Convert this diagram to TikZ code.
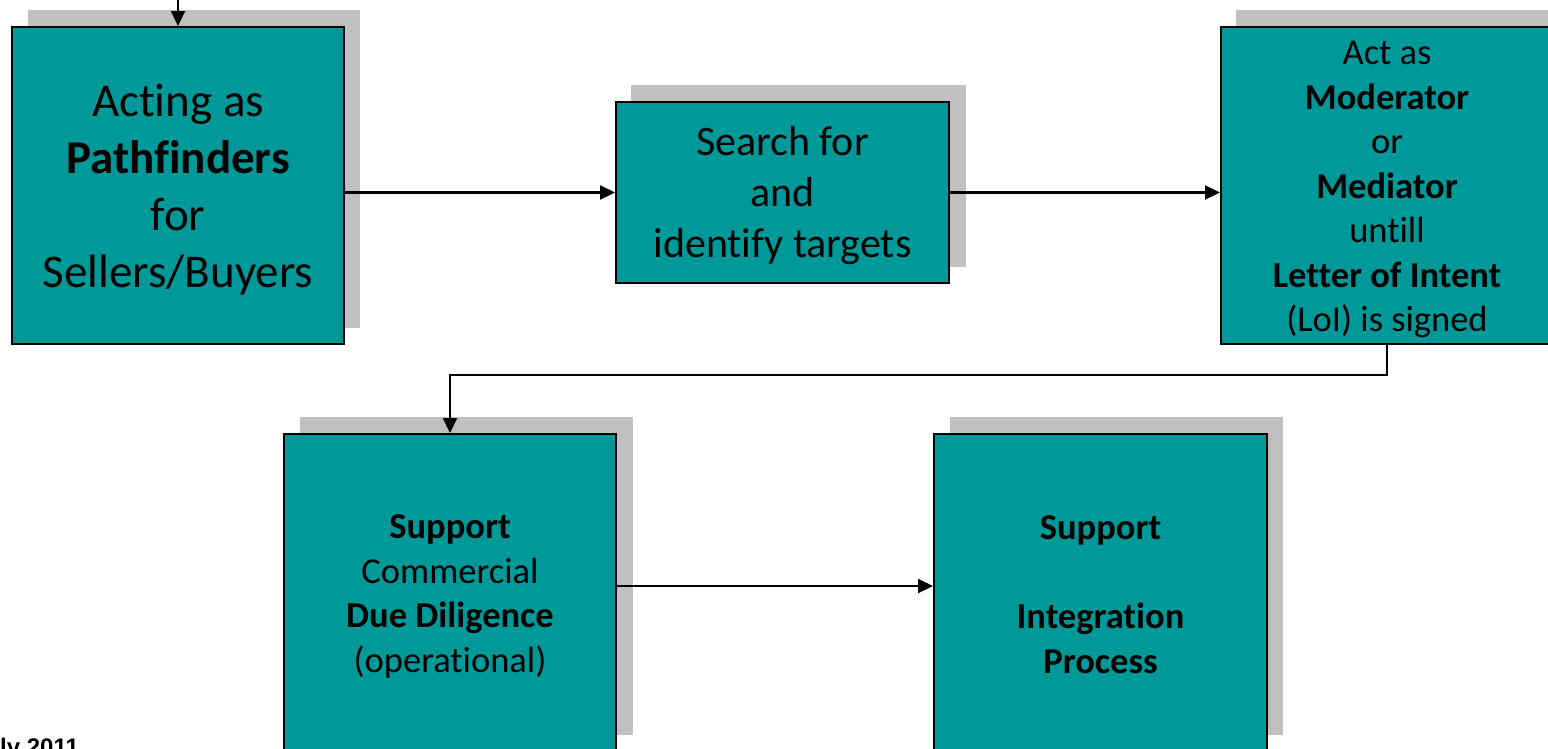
\documentclass[tikz,border=0pt]{standalone}
\usepackage{fontspec}
\setmainfont[Ligatures=CommonOff]{Carlito}
\newfontfamily\arialfont{Liberation Sans}
\usetikzlibrary{arrows.meta,positioning}
\definecolor{teal1}{RGB}{0,153,153}
\definecolor{shadowgray}{RGB}{192,192,192}
\tikzset{
  flowbox/.style={draw=black, line width=2pt, fill=teal1, inner sep=0pt},
  boxtext/.style={inner sep=0pt, align=center, text=black},
  conn/.style={line width=2.2pt, -{Triangle[length=15pt,width=14pt]}}
}
\begin{document}
\begin{tikzpicture}[x=1pt,y=-1pt]
\path[use as bounding box] (0,0) rectangle (1548,748);
\clip (0,0) rectangle (1548,748);
\fill[white] (0,0) rectangle (1548,748);
% shadows
\fill[shadowgray] (28,10) rectangle (360,328);
\fill[shadowgray] (631,85) rectangle (966,267);
\fill[shadowgray] (1236,10) rectangle (1570,328);
\fill[shadowgray] (300,417) rectangle (633,735);
\fill[shadowgray] (950,417) rectangle (1283,735);
% boxes
\node[flowbox, minimum width=332pt, minimum height=317pt] (b1) at (178,185.5) {};
\node[flowbox, minimum width=333pt, minimum height=181pt] (b2) at (782.5,192.5) {};
\node[flowbox, minimum width=332pt, minimum height=317pt] (b3) at (1387,185.5) {};
\node[flowbox, minimum width=332pt, minimum height=317pt] (b4) at (450,592.5) {};
\node[flowbox, minimum width=333pt, minimum height=317pt] (b5) at (1100.5,592.5) {};
% texts
\node[boxtext, font=\fontsize{47}{57}\selectfont] (t1) at ([yshift=-4pt]b1.center)
  {Acting as\\ \textbf{Pathfinders}\\ for\\ Sellers/Buyers};
\node[boxtext, font=\fontsize{42}{51}\selectfont] (t2) at ([yshift=-3pt]b2.center)
  {Search for\\ and\\ identify targets};
\node[boxtext, font=\fontsize{36.5}{44.5}\selectfont] (t3) at ([yshift=-4pt]b3.center)
  {Act as\\ \textbf{Moderator}\\ or\\ \textbf{Mediator}\\ untill\\ \textbf{Letter of Intent}\\ (LoI) is signed};
\node[boxtext, font=\fontsize{36.5}{44.7}\selectfont] (t4) at ([yshift=-4pt]b4.center)
  {\textbf{Support}\\ Commercial\\ \textbf{Due Diligence}\\ (operational)};
\node[boxtext, font=\fontsize{36.5}{44.7}\selectfont] (t5) at ([yshift=-2pt]b5.center)
  {\textbf{Support}\\ \strut\\ \textbf{Integration}\\ \textbf{Process}};
% connectors
\coordinate (topin) at (178,0);
\draw[conn] (topin) -- (b1.north);
\draw[conn] (b1.east |- b2.west) -- (b2.west);
\draw[conn] (b2.east) -- (b3.west |- b2.east);
\draw[conn] (b3.south) -- ++(0,30) -| (b4.north);
\draw[conn] (b4.east |- 0,586) -- (b5.west |- 0,586);
% footer
\node[anchor=base west, inner sep=0pt, font=\arialfont\bfseries\fontsize{24}{28}\selectfont] (date) at (0,755) {ly 2011};
\end{tikzpicture}
\end{document}
